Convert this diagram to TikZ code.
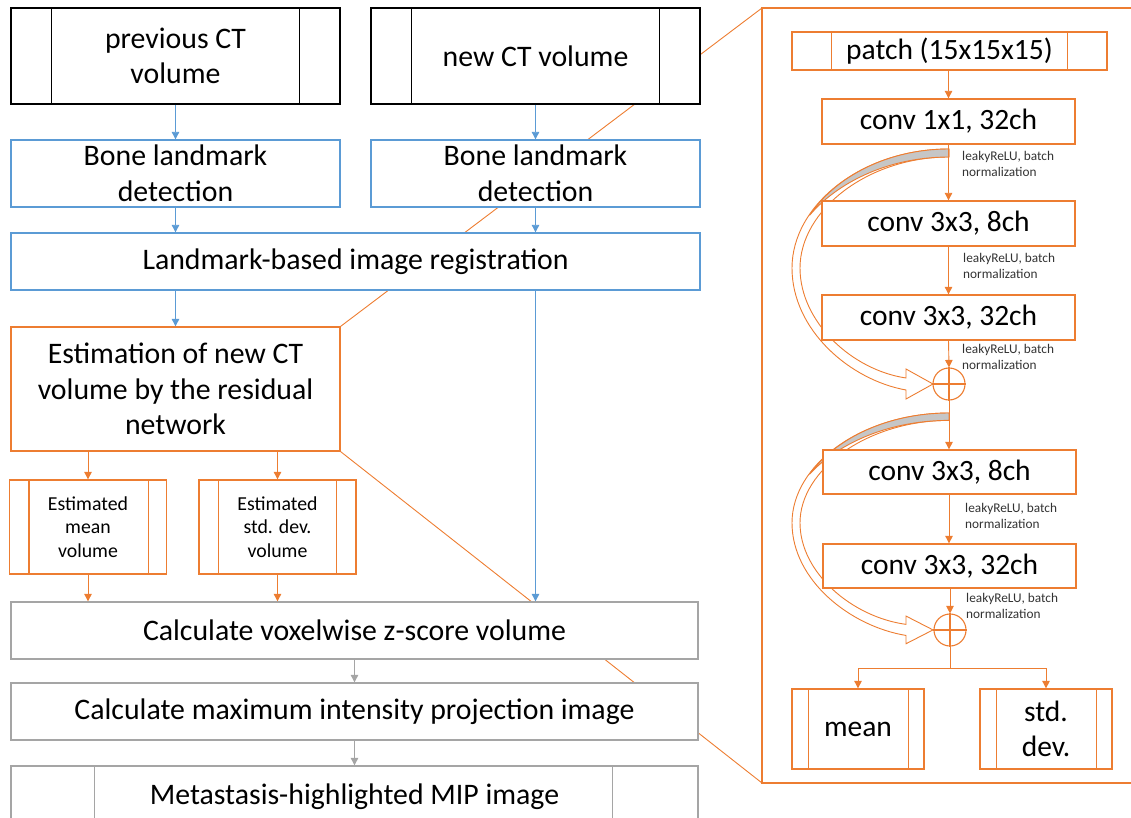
\documentclass[tikz,border=0pt]{standalone}
\usepackage{fontspec}
\setmainfont{Carlito}
\usetikzlibrary{arrows.meta}
\definecolor{cblue}{HTML}{5B9BD5}
\definecolor{corange}{HTML}{ED7D31}
\definecolor{cgray}{HTML}{A5A5A5}
\definecolor{cband}{HTML}{C6C6C6}
\newcommand{\myvlines}[4]{\draw[#4] ([xshift=#2]#1.north west) -- ([xshift=#2]#1.south west) ([xshift=-#3]#1.north east) -- ([xshift=-#3]#1.south east);}
\begin{document}
\begin{tikzpicture}[x=1pt,y=-1pt,
  box/.style={draw, fill=white, line width=1.3pt, inner sep=0pt, align=center, font=\fontsize{29.8}{35.5}\selectfont},
  blackbox/.style={box, draw=black},
  bluebox/.style={box, draw=cblue},
  orangebox/.style={box, draw=corange},
  graybox/.style={box, draw=cgray},
  smallbox/.style={orangebox, font=\fontsize{19.8}{23.6}\selectfont},
  netbox/.style={orangebox, font=\fontsize{29.5}{35}\selectfont},
  lab/.style={font=\fontsize{13.3}{16}\selectfont, align=left, anchor=west, inner sep=0pt, text=black!80},
  arr/.style={-{Triangle[length=7.5pt,width=7.5pt]}, line width=0.9pt},
  barr/.style={arr, draw=cblue},
  oarr/.style={arr, draw=corange},
  garr/.style={arr, draw=cgray},
  zoomline/.style={draw=corange, line width=0.9pt},
  ribbon/.style={draw=corange, line width=0.9pt, fill=white},
  crescent/.style={draw=corange, line width=0.9pt, fill=cband},
  plus/.style={circle, draw=corange, line width=1.1pt, minimum size=32, inner sep=0pt, fill=white}
]
\path[use as bounding box] (0,0) rectangle (1131,818);
\clip (0,0) rectangle (1131,818);

% right panel frame
\draw[corange, line width=1.4pt] (762,8) rectangle (1145,783);
\coordinate (bigtl) at (762,8);
\coordinate (bigbl) at (762,783);

% left column nodes
\node[orangebox, minimum width=329, minimum height=124] (est) at (175.5,389) {Estimation of new CT\\volume by the residual\\network};
\path[zoomline] (est.north east) -- (bigtl);
\path[zoomline] (est.south east) -- (bigbl);
\node[orangebox, minimum width=329, minimum height=124] at (est) {Estimation of new CT\\volume by the residual\\network};

\node[blackbox, minimum width=329, minimum height=96] (prev) at (175.5,56) {previous CT\\volume};
\myvlines{prev}{41}{41}{black, line width=1.3pt}
\node[blackbox, minimum width=329, minimum height=96] (newct) at (535.5,56) {new CT volume};
\myvlines{newct}{41}{41}{black, line width=1.3pt}
\node[bluebox, minimum width=329, minimum height=67] (bone1) at (175.5,173.5) {Bone landmark\\detection};
\node[bluebox, minimum width=329, minimum height=67] (bone2) at (535.5,173.5) {Bone landmark\\detection};
\node[bluebox, minimum width=689, minimum height=57] (reg) at (355.5,261.5) {Landmark-based image registration};

\node[smallbox, minimum width=157, minimum height=94] (emean) at (88,527) {Estimated\\mean\\volume};
\myvlines{emean}{20}{19}{corange, line width=1.3pt}
\node[smallbox, minimum width=157, minimum height=94] (estd) at (277.5,527) {Estimated\\std. dev.\\volume};
\myvlines{estd}{20}{20}{corange, line width=1.3pt}

\node[graybox, minimum width=687, minimum height=57] (zs) at (354.5,630.5) {Calculate voxelwise z-score volume};
\node[graybox, minimum width=687, minimum height=57] (mip) at (354.5,711.5) {Calculate maximum intensity projection image};
\node[graybox, minimum width=687, minimum height=57, text depth=0pt] (meta) at (354.5,794.5) {Metastasis-highlighted MIP image};
\myvlines{meta}{84}{86}{cgray, line width=1.3pt}

% left connectors
\draw[barr] (prev.south) -- (bone1.north);
\draw[barr] (newct.south) -- (bone2.north);
\draw[barr] (bone1.south) -- (bone1.south |- reg.north);
\draw[barr] (bone2.south) -- (bone2.south |- reg.north);
\draw[barr] (reg.south -| est.north) -- (est.north);
\draw[barr] (reg.south -| bone2.south) -- (zs.north -| bone2.south);
\draw[oarr] (est.south -| emean.north) -- (emean.north);
\draw[oarr] (est.south -| estd.north) -- (estd.north);
\draw[oarr] (emean.south) -- (emean.south |- zs.north);
\draw[oarr] (estd.south) -- (estd.south |- zs.north);
\draw[garr] (zs.south) -- (mip.north);
\draw[garr] (mip.south) -- (meta.north);

% skip connection ribbons (drawn under the boxes)
\begin{scope}[shift={(0,149)}]
  \path[ribbon] (949,0) .. controls (862,0) and (792,56) .. (792,119) .. controls (792,181) and (850,231) .. (906,241) -- (906,250) -- (933,235) -- (906,220) -- (906,229) .. controls (852,221) and (800,173) .. (800,119) .. controls (800,61) and (868,8) .. (949,8) -- cycle;
  \path[crescent] (949,0) .. controls (888.1,0) and (835.5,27.4) .. (809.5,66.4) .. controls (835,36) and (885,8) .. (949,8) -- cycle;
\end{scope}
\begin{scope}[shift={(0,413)}, yscale=0.923]
  \path[ribbon] (949,0) .. controls (862,0) and (792,56) .. (792,119) .. controls (792,181) and (850,231) .. (906,241) -- (906,250) -- (933,235) -- (906,220) -- (906,229) .. controls (852,221) and (800,173) .. (800,119) .. controls (800,61) and (868,8) .. (949,8) -- cycle;
  \path[crescent] (949,0) .. controls (888.1,0) and (835.5,27.4) .. (809.5,66.4) .. controls (835,36) and (885,8) .. (949,8) -- cycle;
\end{scope}

% right panel nodes
\node[netbox, minimum width=315, minimum height=38] (patch) at (949.5,51) {patch (15x15x15)};
\myvlines{patch}{40}{40}{corange, line width=1.3pt}
\node[netbox, minimum width=253, minimum height=45] (c1) at (948.5,121.5) {conv 1x1, 32ch};
\node[netbox, minimum width=253, minimum height=45] (c2) at (948.5,223.5) {conv 3x3, 8ch};
\node[netbox, minimum width=253, minimum height=45] (c3) at (948.5,317.5) {conv 3x3, 32ch};
\node[plus] (p1) at (949,384) {};
\draw[corange, line width=1.1pt] (p1.north) -- (p1.south) (p1.west) -- (p1.east);
\node[netbox, minimum width=253, minimum height=44] (c4) at (949.5,472) {conv 3x3, 8ch};
\node[netbox, minimum width=253, minimum height=44] (c5) at (949.5,566) {conv 3x3, 32ch};
\node[plus] (p2) at (950,630) {};
\draw[corange, line width=1.1pt] (p2.north) -- (p2.south) (p2.west) -- (p2.east);
\node[netbox, minimum width=132, minimum height=80] (mean) at (858,729) {mean};
\myvlines{mean}{17}{16}{corange, line width=1.3pt}
\node[netbox, minimum width=132, minimum height=80] (std) at (1046,729) {std.\\dev.};
\myvlines{std}{17}{16}{corange, line width=1.3pt}

% right connectors
\draw[oarr] (patch.south -| c1.north) -- (c1.north);
\draw[oarr] (c1.south) -- (c2.north);
\draw[oarr] (c2.south) -- (c3.north);
\draw[oarr] (c3.south) -- (p1.north);
\draw[oarr] (p1.south) -- (p1.south |- c4.north);
\draw[oarr] (c4.south -| p1.south) -- (p1.south |- c5.north);
\draw[oarr] (c5.south -| p2.north) -- (p2.north);
\coordinate (fk) at (950,668);
\draw[corange, line width=0.9pt] (p2.south) -- (fk);
\draw[oarr] (fk) -| (mean.north);
\draw[oarr] (fk) -| (std.north);

% labels
\node[lab] (l1) at (962,164) {leakyReLU, batch\\normalization};
\node[lab] (l2) at (963,266) {leakyReLU, batch\\normalization};
\node[lab] (l3) at (962,357) {leakyReLU, batch\\normalization};
\node[lab] (l4) at (965,515.5) {leakyReLU, batch\\normalization};
\node[lab] (l5) at (966,606) {leakyReLU, batch\\normalization};
\end{tikzpicture}
\end{document}
